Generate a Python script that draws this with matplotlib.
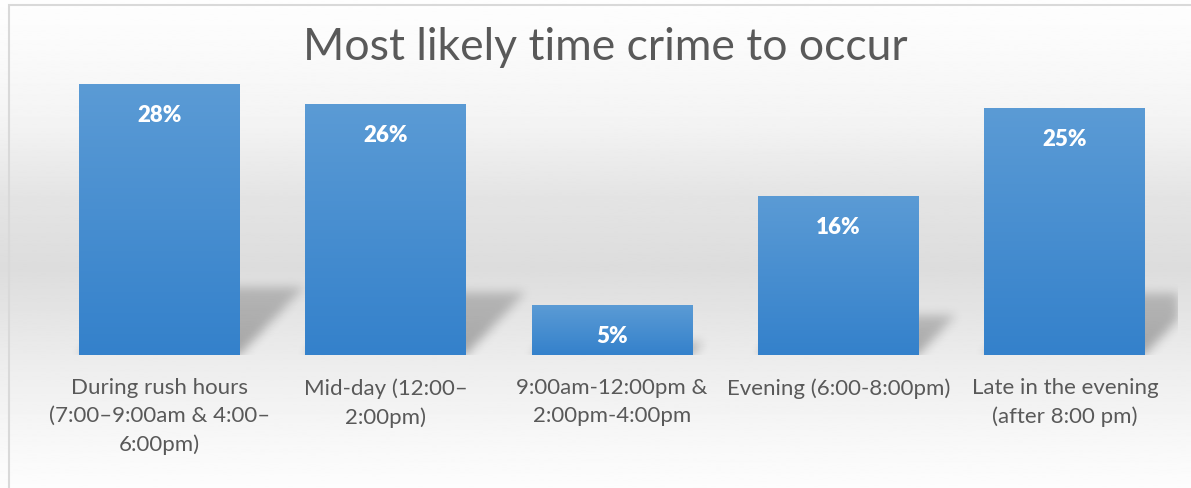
import numpy as np
import matplotlib
matplotlib.use("Agg")
import matplotlib.pyplot as plt
from matplotlib.patches import Rectangle
from matplotlib.colors import LinearSegmentedColormap

plt.rcParams['font.family'] = ['Lato', 'DejaVu Sans']

# datos ---------------------------------------------------------------------
categorias = [
    "During rush hours\n(7:00\u20139:00am & 4:00\u2013\n6:00pm)",
    "Mid-day (12:00\u2013\n2:00pm)",
    "9:00am-12:00pm &\n2:00pm-4:00pm",
    "Evening (6:00-8:00pm)",
    "Late in the evening\n(after 8:00 pm)",
]
valores = [27.9, 25.8, 5.1, 16.3, 25.4]          # porcentajes
etiquetas = ["28%", "26%", "5%", "16%", "25%"]
titulo = "Most likely time crime to occur"

W, H = 1191, 489
fig = plt.figure(figsize=(W / 100, H / 100), dpi=100, facecolor="white")

# fondo degradado -----------------------------------------------------------
ax_bg = fig.add_axes([0, 0, 1, 1], zorder=0)
ys = np.linspace(0, 1, 400)
paradas_y = [0.0, 0.08, 0.25, 0.40, 0.55, 0.75, 0.92, 1.0]
paradas_v = [0.995, 0.985, 0.955, 0.895, 0.865, 0.93, 0.975, 0.99]
perfil = np.interp(ys, paradas_y, paradas_v)
ax_bg.imshow(perfil[:, None], cmap="gray", vmin=0, vmax=1, aspect="auto",
             extent=[0, 1, 1, 0], interpolation="bilinear")
ax_bg.set_xlim(0, 1); ax_bg.set_ylim(1, 0)
ax_bg.axis("off")
# borde del area del grafico
fig.add_artist(Rectangle((8.5 / W, -0.2), 1.2, (H - 5.5) / H + 0.2,
                         transform=fig.transFigure, fill=False,
                         edgecolor="#d9d9d9", linewidth=1.5, zorder=1))

# ejes principales ----------------------------------------------------------
left_px, right_px, base_px, top_px = 46.3, 1178.0, 356.0, 65.0
ax = fig.add_axes([left_px / W, (H - base_px) / H,
                   (right_px - left_px) / W, (base_px - top_px) / H], zorder=2)
ax.patch.set_alpha(0)
x = np.arange(len(valores))
xmin, xmax, ymax = -0.5, len(valores) - 0.5, 30.0
px_x = (right_px - left_px) / len(valores)
px_y = (base_px - top_px) / ymax

ancho = 0.71
barras = ax.bar(x, valores, width=ancho, color="none", edgecolor="none", zorder=3)

# sombras en perspectiva (mascara difuminada) -------------------------------
nx, ny = int(right_px - left_px), int(base_px - top_px)
gx = np.linspace(xmin, xmax, nx)
gy = np.linspace(0, ymax, ny)
XX, YY = np.meshgrid(gx, gy)
alfa = np.zeros_like(XX)
for b in barras:
    x0 = b.get_x(); x1 = x0 + b.get_width(); h = b.get_height()
    hs = 0.25 * h
    dx = 0.95 * hs * px_y / px_x
    t = np.clip(YY / hs, 0, None)
    dentro = (YY <= hs) & (XX >= x0 + t * dx) & (XX <= x1 + t * dx)
    alfa = np.maximum(alfa, dentro * (1 - 0.35 * t))

def difuminar(a, sigma):
    r = int(3 * sigma)
    k = np.exp(-0.5 * (np.arange(-r, r + 1) / sigma) ** 2)
    k /= k.sum()
    a = np.apply_along_axis(lambda v: np.convolve(v, k, mode="same"), 1, a)
    a = np.apply_along_axis(lambda v: np.convolve(v, k, mode="same"), 0, a)
    return a

alfa = difuminar(alfa, 5.0)
sombra = np.zeros((ny, nx, 4))
sombra[..., 3] = 0.30 * alfa
ax.imshow(sombra, origin="lower", aspect="auto", extent=[xmin, xmax, 0, ymax],
          zorder=2, interpolation="bilinear")

# relleno degradado de las barras
cmap_barra = LinearSegmentedColormap.from_list("barra", ["#3481cb", "#5b9bd5"])
grad = np.linspace(0, 1, 256)[:, None]
for b in barras:
    x0 = b.get_x(); x1 = x0 + b.get_width(); h = b.get_height()
    ax.imshow(grad, cmap=cmap_barra, aspect="auto", origin="lower",
              extent=[x0, x1, 0, h], zorder=3, interpolation="bilinear")
ax.set_xlim(xmin, xmax)
ax.set_ylim(0, ymax)

for xi, v, et in zip(x, valores, etiquetas):
    ax.annotate(et, (xi, v), xytext=(0, -14), textcoords="offset points",
                ha="center", va="top", color="white", fontsize=16,
                fontweight="heavy", zorder=4)

ax.set_xticks(x)
ax.set_xticklabels(categorias, color="#595959", fontsize=16, linespacing=1.5)
ax.tick_params(axis="x", length=0, pad=16)
ax.set_yticks([])
for s in ax.spines.values():
    s.set_visible(False)

fig.text(605 / W, (H - 47) / H, titulo, ha="center", va="center",
         fontsize=32, color="#595959")

fig.savefig("out.png", dpi=100)
